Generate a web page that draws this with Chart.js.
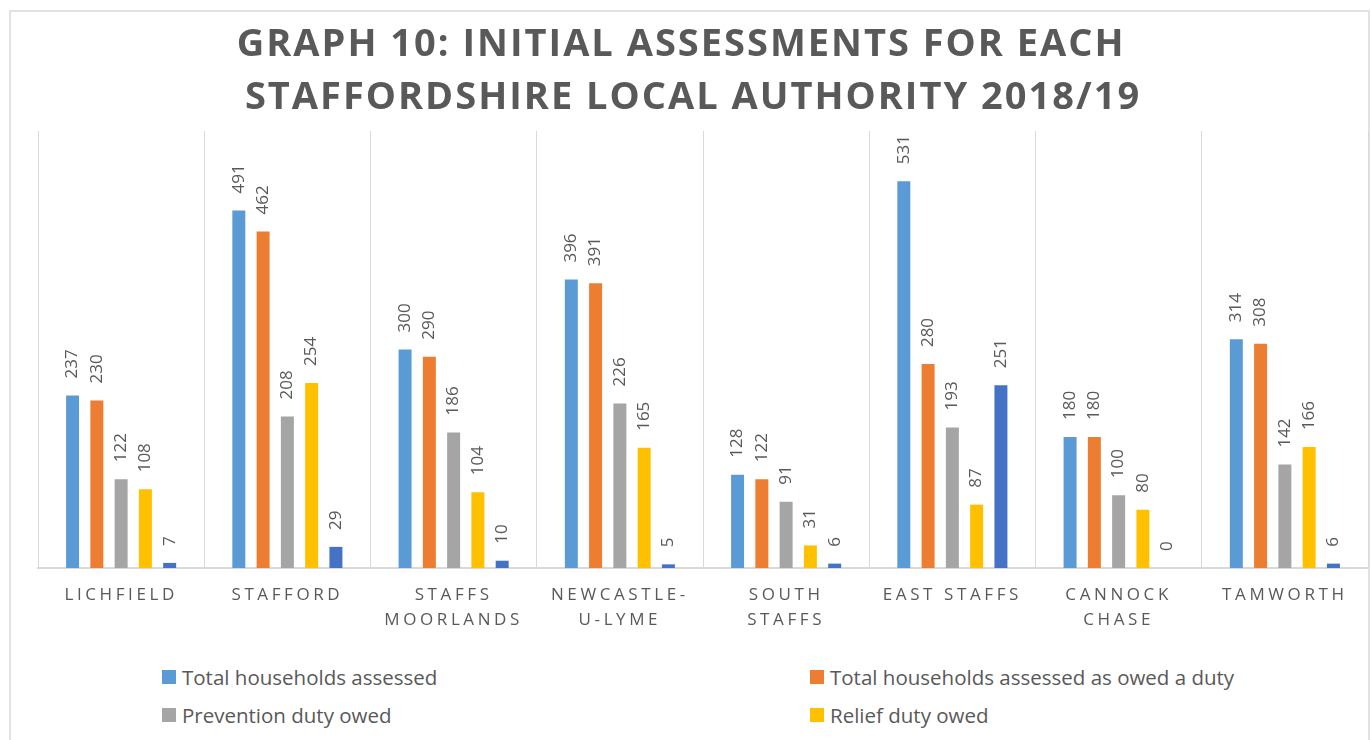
<!DOCTYPE html>
<html>
<head>
<meta charset="utf-8">
<script src="https://cdn.jsdelivr.net/npm/chart.js@4.4.1/dist/chart.umd.min.js"></script>
<style>
   html, body {
      margin: 0;
      padding: 0;
      width: 1371px;
      height: 740px;
      overflow: hidden;
      background: #ffffff;
   }
   #frame {
      position: absolute;
      left: 9px;
      top: 10px;
      width: 1361px;
      height: 800px;
      box-sizing: border-box;
      border: 2px solid #e2e2e2;
   }
   #graph {
      position: absolute;
      left: 0;
      top: 0;
   }
   #legend {
      position: absolute;
      left: 162px;
      top: 658px;
      display: grid;
      grid-template-columns: 648px auto;
      grid-auto-rows: 38px;
      align-items: center;
      font-family: "Open Sans", sans-serif;
      font-size: 20.5px;
      color: #595959;
   }
   .legend-item {
      display: flex;
      align-items: center;
      white-space: nowrap;
   }
   .legend-box {
      width: 14px;
      height: 14px;
      margin-right: 6px;
   }
</style>
</head>
<body>
<div id="frame"></div>
<canvas id="graph" width="1371" height="650"></canvas>
<div id="legend"></div>

<script>
const authorities = ['LICHFIELD', 'STAFFORD', ['STAFFS', 'MOORLANDS'], ['NEWCASTLE-', 'U-LYME'],
   ['SOUTH', 'STAFFS'], 'EAST STAFFS', ['CANNOCK', 'CHASE'], 'TAMWORTH'];

const totalAssessed = [237, 491, 300, 396, 128, 531, 180, 314];
const owedDuty = [230, 462, 290, 391, 122, 280, 180, 308];
const preventionDuty = [122, 208, 186, 226, 91, 193, 100, 142];
const reliefDuty = [108, 254, 104, 165, 31, 87, 80, 166];
const notOwedDuty = [7, 29, 10, 5, 6, 251, 0, 6];

const seriesNames = ['Total households assessed', 'Total households assessed as owed a duty',
   'Prevention duty owed', 'Relief duty owed', 'Not owed a duty'];
const seriesColors = ['#5B9BD5', '#ED7D31', '#A5A5A5', '#FFC000', '#4472C4'];

const textGrey = '#595959';

// value written vertically above each bar
const barValues = {
   id: 'barValues',
   afterDatasetsDraw(chart) {
      const ctx = chart.ctx;
      ctx.save();
      ctx.font = '17px "Open Sans"';
      ctx.fillStyle = textGrey;
      ctx.textAlign = 'left';
      ctx.textBaseline = 'middle';
      chart.data.datasets.forEach((dataset, i) => {
         chart.getDatasetMeta(i).data.forEach((bar, j) => {
            ctx.save();
            ctx.translate(bar.x, bar.y - 17);
            ctx.rotate(-Math.PI / 2);
            ctx.fillText(dataset.data[j], 0, 0);
            ctx.restore();
         });
      });
      ctx.restore();
   }
};

// spaced out lettering for the title and the authority names
function spaceLetters(box, method, spacing) {
   if (box['_spaced' + method]) return;
   const original = box[method].bind(box);
   box[method] = function (area) {
      box.ctx.save();
      box.ctx.letterSpacing = spacing;
      original(area);
      box.ctx.restore();
   };
   box['_spaced' + method] = true;
}

const letterSpacing = {
   id: 'letterSpacing',
   beforeDraw(chart) {
      spaceLetters(chart.titleBlock, 'draw', '2px');
      spaceLetters(chart.scales.x, 'drawLabels', '3.6px');
   }
};

const datasets = [totalAssessed, owedDuty, preventionDuty, reliefDuty, notOwedDuty].map((values, i) => ({
   label: seriesNames[i],
   data: values,
   backgroundColor: seriesColors[i],
   borderWidth: 0,
   categoryPercentage: 0.73,
   barPercentage: 0.535
}));

const graph = new Chart(document.getElementById('graph'), {
   type: 'bar',
   data: {
      labels: authorities,
      datasets: datasets
   },
   options: {
      responsive: false,
      animation: false,
      layout: {
         padding: { left: 18, right: 3, top: 0, bottom: 2 }
      },
      scales: {
         x: {
            grid: {
               color: '#d9d9d9',
               lineWidth: 1,
               drawTicks: false
            },
            border: {
               color: '#d9d9d9',
               width: 2
            },
            ticks: {
               color: textGrey,
               padding: 15,
               maxRotation: 0,
               autoSkip: false,
               font: { family: 'Open Sans', size: 17, lineHeight: '25px' }
            }
         },
         y: {
            min: 0,
            max: 600,
            ticks: { display: false },
            grid: { display: false },
            border: { display: false },
            // empty gutter left of the first category
            afterFit(scale) {
               scale.width = 20;
            }
         }
      },
      plugins: {
         legend: { display: false },
         tooltip: { enabled: false },
         title: {
            display: true,
            text: ['GRAPH 10: INITIAL ASSESSMENTS FOR EACH  ', 'STAFFORDSHIRE LOCAL AUTHORITY 2018/19'],
            color: textGrey,
            font: { family: 'Open Sans', size: 38, weight: 'bold', lineHeight: '53px' },
            padding: { top: 19, bottom: 6 }
         }
      }
   },
   plugins: [barValues, letterSpacing]
});
graph.draw();

// legend in two columns, built from the chart's own legend items
const legendWrapper = document.getElementById('legend');
graph.options.plugins.legend.labels.generateLabels(graph).forEach(item => {
   const entry = document.createElement('div');
   entry.className = 'legend-item';
   const box = document.createElement('span');
   box.className = 'legend-box';
   box.style.background = item.fillStyle;
   entry.appendChild(box);
   entry.appendChild(document.createTextNode(item.text));
   legendWrapper.appendChild(entry);
});
</script>
</body>
</html>
